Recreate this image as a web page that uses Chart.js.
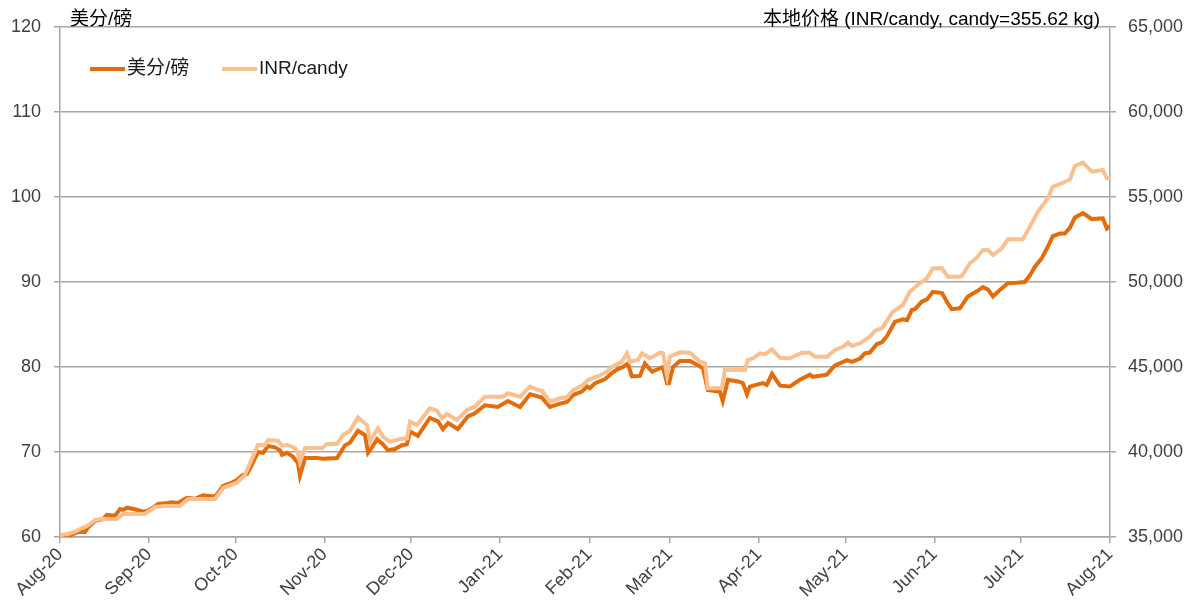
<!DOCTYPE html>
<html>
<head>
<meta charset="utf-8">
<script src="https://cdn.jsdelivr.net/npm/chart.js@4"></script>
<style>
  html, body { margin: 0; padding: 0; background: #fff; }
  #wrap { width: 1196px; height: 609px; }
</style>
</head>
<body>
<div id="wrap"><canvas id="chart" width="1196" height="609"></canvas></div>
<script>
// days since 1 Aug 2020 where each month label sits
const monthDays = [0, 31, 61, 92, 122, 153, 184, 212, 243, 273, 304, 334, 365];
const monthLabels = ['Aug-20', 'Sep-20', 'Oct-20', 'Nov-20', 'Dec-20', 'Jan-21', 'Feb-21',
  'Mar-21', 'Apr-21', 'May-21', 'Jun-21', 'Jul-21', 'Aug-21'];

// 美分/磅 (left axis)
const usDays = [0, 2.8, 4.5, 6.3, 8.7, 9.7, 12.2, 14.9, 16.3, 19.1, 20.9, 21.9, 23.3, 26.8, 28.5, 30.2,
  32.0, 34.1, 37.2, 38.9, 41.0, 44.1, 46.9, 49.7, 52.8, 53.9, 56.7, 59.8, 61.5, 63.6, 65.0, 66.7,
  68.8, 70.6, 72.3, 74.7, 76.5, 77.2, 78.9, 81.0, 82.7, 83.4, 85.2, 89.3, 91.4, 96.3, 99.1, 100.8,
  103.6, 106.0, 107.1, 108.4, 110.2, 112.3, 114.0, 116.4, 118.9, 120.6, 121.7, 124.4, 128.6, 131.4,
  133.1, 134.9, 138.3, 141.8, 144.2, 147.7, 152.2, 155.7, 159.9, 163.4, 167.5, 170.3, 173.8, 176.2,
  178.3, 181.4, 183.2, 184.2, 186.0, 189.4, 191.9, 193.6, 195.7, 197.4, 198.8, 201.6, 203.3, 205.8,
  208.6, 209.6, 211.0, 211.7, 213.1, 215.5, 219.0, 221.8, 223.5, 225.2, 229.4, 230.4, 232.2, 235.7,
  237.4, 238.8, 239.8, 244.3, 245.7, 247.5, 250.3, 253.7, 257.2, 260.7, 261.7, 266.6, 269.4, 273.6,
  275.3, 278.1, 279.8, 281.5, 284.0, 285.7, 287.4, 290.2, 293.0, 294.4, 296.1, 297.2, 299.6, 301.4,
  303.4, 306.6, 308.6, 310.0, 312.8, 315.6, 318.7, 320.8, 322.6, 324.3, 326.7, 329.5, 332.6, 335.4,
  337.2, 338.9, 341.3, 343.4, 345.1, 347.6, 349.3, 351.1, 352.8, 355.6, 358.7, 362.5, 363.9, 365];
const usCents = [60.0, 60.0, 60.35, 60.6, 60.6, 61.1, 61.9, 62.1, 62.6, 62.5, 63.3, 63.2, 63.45, 63.2, 63.0, 63.05,
  63.4, 63.9, 64.0, 64.1, 64.0, 64.6, 64.5, 64.9, 64.8, 64.75, 66.0, 66.4, 66.7, 67.3, 67.4, 68.5,
  70.0, 69.9, 70.7, 70.55, 70.2, 69.65, 69.9, 69.45, 68.7, 67.2, 69.3, 69.3, 69.2, 69.3, 70.8, 71.1,
  72.5, 72.0, 69.9, 70.5, 71.5, 70.9, 70.2, 70.35, 70.8, 70.9, 72.4, 71.9, 74.0, 73.6,
  72.7, 73.4, 72.7, 74.2, 74.55, 75.5, 75.3, 76.0, 75.3, 76.8, 76.4, 75.3, 75.7, 75.9,
  76.7, 77.1, 77.7, 77.5, 78.1, 78.55, 79.3, 79.7, 80.0, 80.4, 78.9, 78.95, 80.4, 79.45,
  79.85, 80.0, 78.1, 78.1, 80.0, 80.7, 80.7, 80.2, 79.85, 77.3, 77.1, 76.0, 78.5, 78.3,
  78.1, 76.8, 77.7, 78.1, 77.9, 79.2, 77.8, 77.7, 78.5, 79.1, 78.85, 79.1, 80.2, 80.8,
  80.6, 81.0, 81.6, 81.7, 82.7, 82.9, 83.6, 85.3, 85.6, 85.5, 86.7, 86.8, 87.7, 87.95,
  88.85, 88.7, 87.5, 86.8, 86.9, 88.3, 88.9, 89.4, 89.1, 88.3, 89.05, 89.85, 89.9, 90.0,
  90.8, 91.8, 92.8, 94.15, 95.4, 95.7, 95.7, 96.4, 97.6, 98.1, 97.4, 97.5, 96.3, 96.6];

// INR/candy (right axis)
const inrDays = [0, 2.8, 5.2, 7.6, 9.4, 12.2, 14.6, 19.8, 21.9, 29.5, 33.0, 36.5, 41.7, 44.5, 53.9, 56.7,
  61.5, 64.3, 68.8, 71.3, 72.3, 75.8, 77.2, 79.2, 81.7, 82.7, 83.4, 85.2, 91.1, 92.8, 96.3, 98.4,
  100.8, 103.6, 106.7, 107.8, 110.5, 112.3, 114.7, 118.2, 120.6, 121.7, 124.1, 128.6, 131.0, 132.8,
  134.5, 138.0, 141.5, 144.2, 147.7, 154.0, 155.7, 159.9, 163.4, 166.1, 167.5, 170.3, 173.8, 176.2,
  178.3, 181.8, 183.5, 186.7, 190.1, 191.9, 195.3, 197.1, 198.1, 200.9, 202.3, 205.1, 208.6, 209.6,
  211.0, 212.0, 215.5, 219.0, 222.5, 224.2, 225.2, 230.1, 231.1, 238.1, 239.1, 240.9, 243.3, 245.0,
  247.5, 250.3, 253.7, 257.9, 260.7, 262.4, 266.6, 269.4, 272.2, 273.9, 275.3, 278.1, 281.5, 283.3,
  285.7, 289.5, 293.0, 295.4, 298.9, 301.4, 303.4, 306.6, 308.6, 312.8, 313.5, 316.3, 318.7, 320.8,
  322.6, 324.3, 327.4, 329.5, 334.7, 336.5, 339.9, 343.4, 345.1, 348.6, 351.1, 352.8, 355.6, 358.7,
  362.5, 363.9, 365];
const inrPrice = [35118, 35176, 35312, 35529, 35647, 36000, 36059, 36059, 36353, 36353, 36765, 36824, 36824, 37235, 37235, 37882,
  38194, 38647, 40412, 40412, 40706, 40665, 40371, 40412, 40235, 39941, 39412, 40235, 40235, 40471, 40471, 41000,
  41253, 42041, 41588, 40606, 41394, 40900, 40606, 40765, 40806, 41782, 41588, 42571, 42429, 41982,
  42235, 41882, 42471, 42665, 43253, 43253, 43453, 43253, 43841, 43647, 43606, 42959, 43159, 43218,
  43647, 43941, 44235, 44429, 44724, 45018, 45312, 45806, 45312, 45412, 45806, 45512, 45841, 45806,
  44529, 45606, 45865, 45841, 45312, 45218, 43747, 43747, 44824, 44824, 45412, 45512, 45806, 45747,
  46041, 45547, 45512, 45841, 45841, 45606, 45606, 46000, 46194, 46429, 46235, 46394, 46782, 47135,
  47276, 48253, 48647, 49429, 49924, 50218, 50806, 50806, 50312, 50312, 50353, 51100, 51429, 51882,
  51882, 51588, 51982, 52512, 52512, 53059, 54135, 54924, 55606, 55841, 56041, 56824, 57018, 56488,
  56588, 56100, 56100];

const leftTicks = [60, 70, 80, 90, 100, 110, 120];
const rightTicks = [35000, 40000, 45000, 50000, 55000, 60000, 65000];

const darkOrange = '#E46C0A';
const lightOrange = '#FAC090';
const gridGray = '#A6A6A6';
const textGray = '#404040';
const fontFam = '"Liberation Sans", Arial, "Noto Sans CJK SC", sans-serif';

const toPoints = (xs, ys) => xs.map((d, i) => ({ x: d, y: ys[i] }));

// titles above the plot and the legend inside it
const decorations = {
  id: 'decorations',
  afterDraw(chart) {
    const ctx = chart.ctx;
    const area = chart.chartArea;
    ctx.save();
    ctx.fillStyle = '#000';
    ctx.font = '19px ' + fontFam;
    ctx.textBaseline = 'alphabetic';
    ctx.textAlign = 'left';
    ctx.fillText('美分/磅', area.left + 10, area.top - 2);
    ctx.textAlign = 'right';
    ctx.fillText('本地价格 (INR/candy, candy=355.62 kg)', area.right - 10, area.top - 2);

    const items = [
      { label: '美分/磅', color: darkOrange, x: 90 },
      { label: 'INR/candy', color: lightOrange, x: 222 }
    ];
    ctx.font = '19px ' + fontFam;
    ctx.textAlign = 'left';
    ctx.textBaseline = 'middle';
    items.forEach(it => {
      ctx.strokeStyle = it.color;
      ctx.lineWidth = 4;
      ctx.beginPath();
      ctx.moveTo(it.x, 69);
      ctx.lineTo(it.x + 35, 69);
      ctx.stroke();
      ctx.fillStyle = '#1a1a1a';
      ctx.fillText(it.label, it.x + 37, 69);
    });
    ctx.restore();
  }
};

const ctx = document.getElementById('chart');
new Chart(ctx, {
  type: 'line',
  data: {
    datasets: [
      {
        label: 'INR/candy',
        data: toPoints(inrDays, inrPrice),
        borderColor: lightOrange,
        borderWidth: 4,
        pointRadius: 0,
        tension: 0,
        yAxisID: 'y1',
        order: 0
      },
      {
        label: '美分/磅',
        data: toPoints(usDays, usCents),
        borderColor: darkOrange,
        borderWidth: 4,
        pointRadius: 0,
        tension: 0,
        yAxisID: 'y',
        order: 1
      }
    ]
  },
  options: {
    responsive: false,
    animation: false,
    layout: { padding: { top: 27, left: 0, right: 0, bottom: 0 } },
    plugins: {
      legend: { display: false },
      tooltip: { enabled: false }
    },
    scales: {
      x: {
        type: 'linear',
        min: 0,
        max: 365,
        afterBuildTicks: s => { s.ticks = monthDays.map(v => ({ value: v })); },
        afterFit: s => { s.height = 72; },
        ticks: {
          autoSkip: false,
          minRotation: 45,
          maxRotation: 45,
          padding: 1,
          color: textGray,
          font: { family: fontFam, size: 18 },
          callback: v => monthLabels[monthDays.indexOf(v)]
        },
        grid: { drawOnChartArea: false, drawTicks: true, tickLength: 6, color: gridGray, lineWidth: 1.5 },
        border: { display: true, color: gridGray, width: 1.5 }
      },
      y: {
        position: 'left',
        min: 60,
        max: 120,
        afterBuildTicks: s => { s.ticks = leftTicks.map(v => ({ value: v })); },
        afterFit: s => { s.width = 60; },
        ticks: {
          padding: 13,
          color: textGray,
          font: { family: fontFam, size: 18 }
        },
        grid: { color: gridGray, lineWidth: 1.5, tickLength: 6 },
        border: { display: true, color: gridGray, width: 1.5 }
      },
      y1: {
        position: 'right',
        min: 35000,
        max: 65000,
        afterBuildTicks: s => { s.ticks = rightTicks.map(v => ({ value: v })); },
        afterFit: s => { s.width = 86; },
        ticks: {
          padding: 12,
          color: textGray,
          font: { family: fontFam, size: 18 },
          callback: v => v.toLocaleString('en-US')
        },
        grid: { drawOnChartArea: false, color: gridGray, lineWidth: 1.5, tickLength: 6 },
        border: { display: true, color: gridGray, width: 1.5 }
      }
    }
  },
  plugins: [decorations]
});
</script>
</body>
</html>
